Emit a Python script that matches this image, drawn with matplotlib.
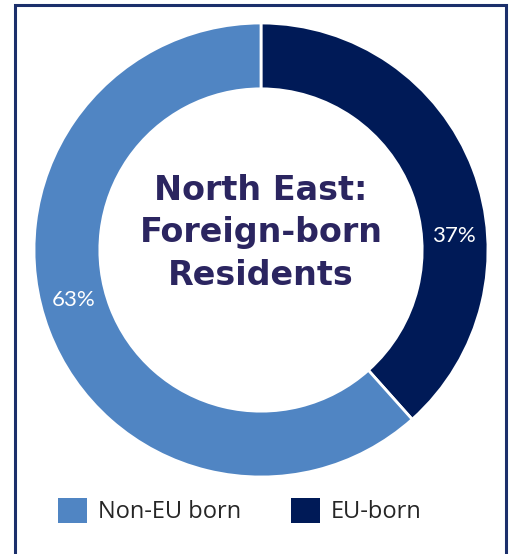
import numpy as np
import matplotlib.pyplot as plt
from matplotlib.patches import Rectangle, Patch

# data (wedge sizes as drawn, labels as printed)
categories = ["EU-born", "Non-EU born"]
shares = [38.4, 61.6]
pct_labels = ["37%", "63%"]
colors = ["#001A57", "#5085C3"]
legend_order = ["Non-EU born", "EU-born"]
title = "North East:\nForeign-born\nResidents"

W, H = 509, 554
fig = plt.figure(figsize=(W / 100, H / 100), dpi=100)

# pie axes placed in pixels: centre (261, 250), radius 227
cx, cy, r = 261, 250, 227
ax = fig.add_axes([(cx - r) / W, (H - cy - r) / H, 2 * r / W, 2 * r / H])
wedges, _ = ax.pie(shares, colors=colors, startangle=90, counterclock=False,
                   radius=1.0, wedgeprops=dict(width=0.29, edgecolor="white", linewidth=2))
ax.set_xlim(-1, 1)
ax.set_ylim(-1, 1)
ax.set_aspect("equal")
ax.axis("off")

# percentage labels inside the ring
label_shift = [-16.7, -6]   # degrees away from wedge middle
for w, s, d in zip(wedges, pct_labels, label_shift):
    ang = np.deg2rad((w.theta1 + w.theta2) / 2 + d)
    ax.text(0.852 * np.cos(ang), 0.852 * np.sin(ang), s, color="white",
            ha="center", va="center", fontsize=16, family="Lato")

ax.text(0, 0.075, title, ha="center", va="center", color="#2B2560",
        fontsize=24, fontweight="bold", family="DejaVu Sans", linespacing=1.37)

# legend
handles = [Patch(facecolor=colors[categories.index(c)]) for c in legend_order]
fig.legend(handles, legend_order, loc="upper left", bbox_to_anchor=(58 / W, 1 - 498 / H),
           ncol=2, frameon=False, prop=dict(family="Open Sans", size=17),
           handlelength=1.24, handleheight=1.24, handletextpad=0.45,
           columnspacing=2.1, borderpad=0, borderaxespad=0, labelcolor="#262626")

# frame around the panel
fig.patches.append(Rectangle((15 / W, -0.05), 491 / W, 1.05 - 5 / H, transform=fig.transFigure,
                             fill=False, edgecolor="#1B2F6B", linewidth=2.2))

fig.savefig("out.png", dpi=100)
